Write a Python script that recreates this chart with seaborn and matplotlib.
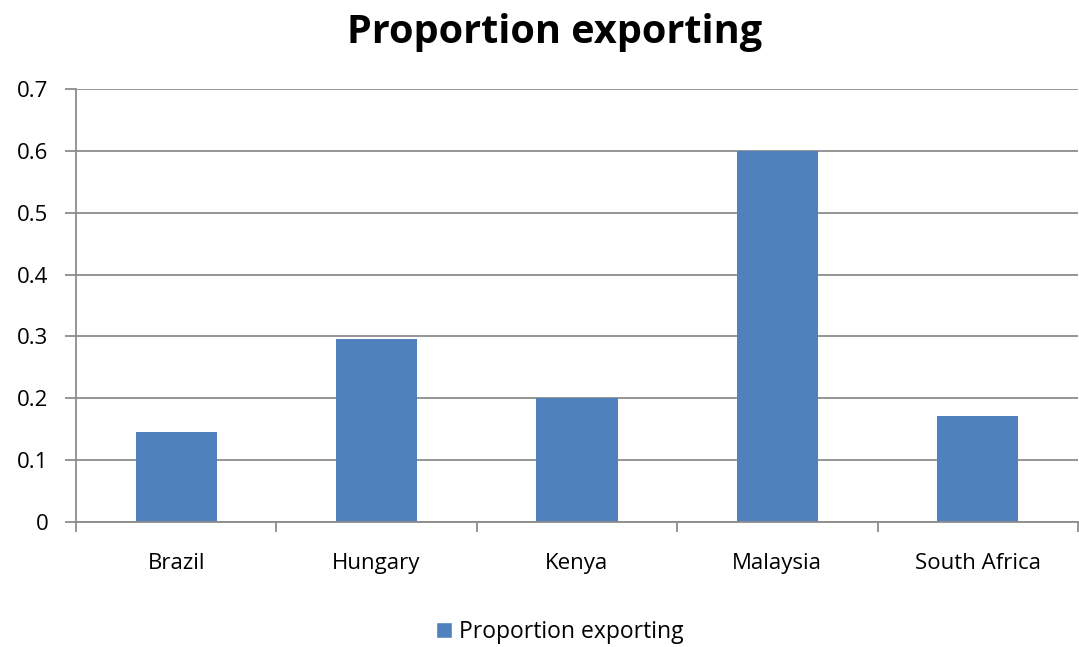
import numpy as np
import pandas as pd
import matplotlib
matplotlib.use("Agg")
import matplotlib.pyplot as plt
import seaborn as sns
from matplotlib.patches import Patch

countries = ["Brazil", "Hungary", "Kenya", "Malaysia", "South Africa"]
proportion = [0.146, 0.296, 0.201, 0.600, 0.172]

df = pd.DataFrame({"country": countries, "proportion": proportion})

sns.set_theme(style="white")
plt.rcParams["font.family"] = ["Open Sans", "DejaVu Sans"]
plt.rcParams["text.color"] = "black"

bar_color = "#4F81BD"
grid_color = "#8C8C8C"

fig = plt.figure(figsize=(10.79, 6.47), dpi=100)
ax = fig.add_axes([0.0704, 0.1932, 0.9286, 0.6692])

sns.barplot(data=df, x="country", y="proportion", color=bar_color,
            width=0.405, saturation=1, linewidth=0, ax=ax)

ax.set_xlim(-0.5, len(countries) - 0.5)
ax.set_ylim(0, 0.7)
ax.set_yticks(np.arange(0, 0.71, 0.1))
ax.set_yticklabels(["0"] + [f"{v:.1f}" for v in np.arange(0.1, 0.71, 0.1)])
ax.yaxis.grid(True, color=grid_color, linewidth=1.3)
ax.set_axisbelow(True)
ax.set_xlabel("")
ax.set_ylabel("")

for s in ["top", "right"]:
    ax.spines[s].set_visible(False)
for s in ["left", "bottom"]:
    ax.spines[s].set_color(grid_color)
    ax.spines[s].set_linewidth(1.3)

ax.tick_params(axis="y", length=8, width=1.3, color=grid_color, direction="out",
               labelsize=16, pad=12, labelcolor="black", left=True)
ax.tick_params(axis="x", length=0, labelsize=16, pad=22, labelcolor="black")
ax.set_xticks(np.arange(-0.5, len(countries)), minor=True)
ax.tick_params(axis="x", which="minor", length=7, width=1.3, color=grid_color,
               direction="out", bottom=True)

fig.suptitle("Proportion exporting", fontsize=28.5, fontweight="bold",
             color="black", x=0.514, y=0.98)

fig.legend(handles=[Patch(facecolor=bar_color, label="Proportion exporting")],
           loc="center", bbox_to_anchor=(0.519, 0.023), frameon=False,
           fontsize=16.5, handlelength=0.7, handleheight=0.7, handletextpad=0.3)

fig.savefig("out.png", dpi=100)
